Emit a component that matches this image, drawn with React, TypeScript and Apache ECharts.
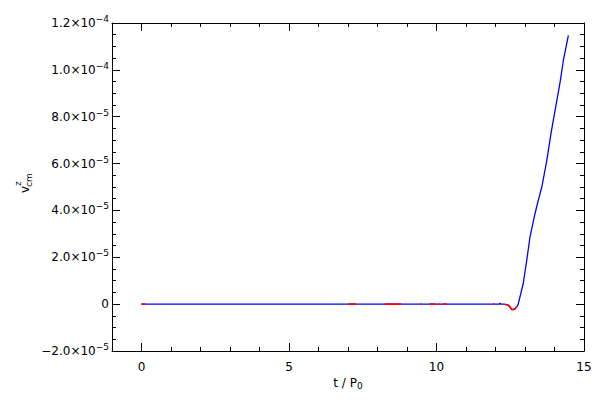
import React, { useEffect, useRef } from "react";
import * as echarts from "echarts";

// time in units of P0
const T = [
  0, 0.13, 0.14, 7.0, 7.01, 7.27, 7.28, 8.24, 8.25, 8.8, 8.81, 9.43, 9.44, 9.48, 9.49,
  9.75, 9.76, 9.98, 9.99, 10.04, 10.05, 10.1, 10.11, 10.2, 10.21, 10.35, 10.36, 11.9,
  11.91, 11.97, 11.98, 12.13, 12.15, 12.17, 12.3, 12.32, 12.43, 12.49, 12.55, 12.6, 12.66,
  12.72, 12.77, 12.83, 12.94, 13.06, 13.17, 13.34, 13.45, 13.57, 13.74, 13.88, 14.02,
  14.19, 14.3, 14.47,
];
// v^z_cm values
const V = [
  -1e-8, -1e-8, 0, 0, -1e-8, -1e-8, 0, 0, -1e-8, -1e-8, 0, 0, -1e-8, -1e-8, 0,
  0, -1e-8, -1e-8, 0, 0, -1e-8, -1e-8, 0, 0, -1e-8, -1e-8, 0, 0,
  -1e-8, -1e-8, 0, 0, 5e-7, 0, 0, -1.5e-7, -4e-7, -1.15e-6, -2.3e-6, -2.3e-6, -2.0e-6,
  -1.15e-6, 0, 3.1e-6, 8.8e-6, 1.88e-5, 2.87e-5, 3.87e-5, 4.43e-5, 5.0e-5, 6.14e-5, 7.28e-5, 8.27e-5,
  9.48e-5, 1.04e-4, 1.147e-4,
];
const X_MAJOR = [0, 5, 10, 15];
const X_MINOR = [1, 2, 3, 4, 6, 7, 8, 9, 11, 12, 13, 14];
const X_MIN = -1;
const X_MAX = 15;
const Y_MIN = -2e-5;
const Y_MAX = 1.2e-4;
const Y_STEP = 2e-5;

const FONT = "DejaVu Sans";

function fmtY(v: number): string {
  if (Math.abs(v) < 1e-12) return "{m|0}";
  const e = Math.floor(Math.log10(Math.abs(v)) + 1e-9);
  const m = v / Math.pow(10, e);
  const ms = (m < 0 ? "\u2212" : "") + Math.abs(m).toFixed(1);
  return `{m|${ms}\u00d710}{e|\u2212${Math.abs(e)}}`;
}

export default function App() {
  const ref = useRef<HTMLDivElement>(null);
  useEffect(() => {
    if (!ref.current) return;
    const chart = echarts.init(ref.current, null, { renderer: "svg" });
    const all = T.map((t, i) => [t, V[i]]);
    const red = T.map((t, i) => {
      const neg = V[i] < 0 && ((i > 0 && V[i - 1] < 0) || (i < V.length - 1 && V[i + 1] < 0));
      return neg ? [t, V[i]] : [t, null];
    });
    const axisLine = { show: true, onZero: false, lineStyle: { color: "#000", width: 1 } };
    const noLine = { show: false, onZero: false };
    const xBase = { type: "value", min: X_MIN, max: X_MAX, splitLine: { show: false } };
    const yBase = {
      type: "value",
      min: Y_MIN,
      max: Y_MAX,
      interval: Y_STEP,
      splitLine: { show: false },
      axisLine,
      axisTick: { show: true, inside: true, length: 8, lineStyle: { color: "#000" } },
      minorTick: { show: true, splitNumber: 4, length: 4, lineStyle: { color: "#000" } },
    };
    chart.setOption({
      animation: false,
      backgroundColor: "#fff",
      grid: { left: 112, right: 16, top: 23, bottom: 49, containLabel: false },
      xAxis: [
        {
          ...xBase,
          position: "bottom",
          axisLine,
          axisTick: { show: true, inside: true, length: 8, customValues: X_MAJOR, lineStyle: { color: "#000" } },
          axisLabel: { customValues: X_MAJOR, margin: 10, color: "#000", fontFamily: FONT, fontSize: 12 },
        },
        {
          ...xBase,
          position: "bottom",
          axisLine: noLine,
          axisTick: { show: true, inside: true, length: 4, customValues: X_MINOR, lineStyle: { color: "#000" } },
          axisLabel: { show: false },
        },
        {
          ...xBase,
          position: "top",
          axisLine,
          axisTick: { show: true, inside: true, length: 8, customValues: X_MAJOR, lineStyle: { color: "#000" } },
          axisLabel: { show: false },
        },
        {
          ...xBase,
          position: "top",
          axisLine: noLine,
          axisTick: { show: true, inside: true, length: 4, customValues: X_MINOR, lineStyle: { color: "#000" } },
          axisLabel: { show: false },
        },
      ],
      yAxis: [
        {
          ...yBase,
          position: "left",
          axisLabel: {
            margin: 3,
            color: "#000",
            formatter: (v: number) => fmtY(v),
            rich: {
              m: { fontFamily: FONT, fontSize: 12, color: "#000" },
              e: { fontFamily: FONT, fontSize: 9, color: "#000", padding: [0, 0, 8, 0] },
            },
          },
        },
        {
          ...yBase,
          position: "right",
          axisLabel: { show: false },
        },
      ],
      series: [
        {
          type: "line",
          xAxisIndex: 0,
          yAxisIndex: 0,
          data: all,
          showSymbol: false,
          symbol: "none",
          lineStyle: { color: "#0000ff", width: 1.3 },
          z: 2,
        },
        {
          type: "line",
          xAxisIndex: 0,
          yAxisIndex: 0,
          data: red,
          showSymbol: false,
          symbol: "none",
          connectNulls: false,
          lineStyle: { color: "#ff0000", width: 1.6 },
          z: 3,
        },
      ],
      graphic: [
        {
          type: "text",
          x: 348,
          y: 383,
          style: {
            text: "{a|t / P}{b|0}",
            textAlign: "center",
            textVerticalAlign: "middle",
            rich: {
              a: { fontFamily: FONT, fontSize: 12, fill: "#000" },
              b: { fontFamily: FONT, fontSize: 9, fill: "#000", padding: [6, 0, 0, 0] },
            },
          },
        },
        {
          type: "text",
          x: 25,
          y: 193,
          rotation: Math.PI / 2,
          style: { text: "v", font: `12px "${FONT}"`, fill: "#000", textAlign: "left", textVerticalAlign: "middle" },
        },
        {
          type: "text",
          x: 18,
          y: 186,
          rotation: Math.PI / 2,
          style: { text: "z", font: `9px "${FONT}"`, fill: "#000", textAlign: "left", textVerticalAlign: "middle" },
        },
        {
          type: "text",
          x: 29,
          y: 187,
          rotation: Math.PI / 2,
          style: { text: "cm", font: `9px "${FONT}"`, fill: "#000", textAlign: "left", textVerticalAlign: "middle" },
        },
      ],
    });
    return () => chart.dispose();
  }, []);
  return <div ref={ref} style={{ width: 600, height: 400, position: "absolute", left: 0, top: 0 }} />;
}
